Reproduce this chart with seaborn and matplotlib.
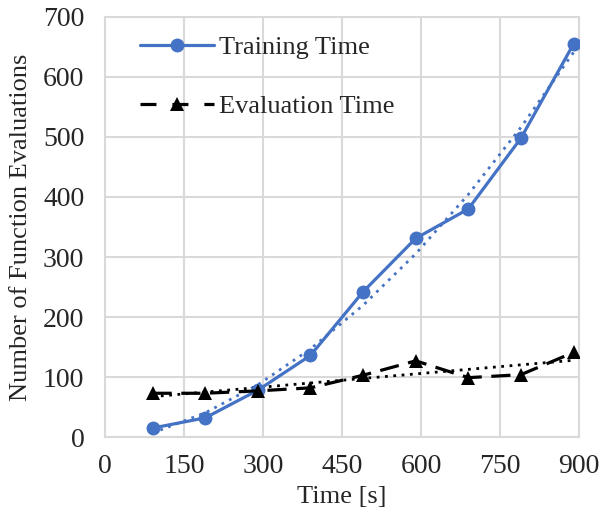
#!/usr/bin/env python3

import numpy as np
import pandas as pd
import matplotlib
matplotlib.use("Agg")
import matplotlib.pyplot as plt
from matplotlib.ticker import MultipleLocator
import seaborn as sns


time_s = [90, 190, 290, 390, 490, 590, 690, 790, 890]
training_evals = [15, 32, 78, 136, 242, 331, 380, 498, 655]
evaluation_evals = [73, 73, 77, 82, 103, 127, 99, 104, 141]

data = pd.DataFrame({"Time": time_s, "Training": training_evals, "Evaluation": evaluation_evals})

blue = "#4472C4"
grid_color = "#d9d9d9"

sns.set_theme(style="white")
plt.rcParams["font.family"] = ["Liberation Serif", "DejaVu Serif"]

fig, ax = plt.subplots(figsize=(6.08, 5.13), dpi=100)
fig.subplots_adjust(left=0.173, right=0.952, top=0.967, bottom=0.148)

# trendlines (Excel style): polynomial for training, linear for evaluation
train_fit = np.poly1d(np.polyfit(data["Time"], data["Training"], 2))
eval_fit = np.poly1d(np.polyfit(data["Time"], data["Evaluation"], 1))
ax.plot(data["Time"], train_fit(data["Time"]), color=blue, lw=2, ls=(0, (1, 2)), zorder=2)
ax.plot(data["Time"], eval_fit(data["Time"]), color="black", lw=2, ls=(0, (1, 2)), zorder=2)

sns.lineplot(data=data, x="Time", y="Training", color=blue, lw=2.3, marker="o",
             markersize=10, markeredgewidth=0, label="Training Time", ax=ax, zorder=3)
sns.lineplot(data=data, x="Time", y="Evaluation", color="black", lw=2.3, marker="^",
             markersize=10, markeredgewidth=0, label="Evaluation Time", ax=ax, zorder=3)
ax.lines[-1].set_linestyle((0, (6, 3)))

ax.set_xlim(0, 900)
ax.set_ylim(0, 700)
ax.xaxis.set_major_locator(MultipleLocator(150))
ax.xaxis.set_minor_locator(MultipleLocator(50))
ax.yaxis.set_major_locator(MultipleLocator(100))
ax.yaxis.set_minor_locator(MultipleLocator(25))
ax.tick_params(axis="both", which="major", labelsize=20, length=0)
ax.tick_params(axis="x", which="major", pad=12)
ax.tick_params(axis="y", which="major", pad=15)
ax.tick_params(axis="both", which="minor", direction="in", length=6, width=1.2, color=grid_color)
ax.grid(True, which="major", color=grid_color, lw=1.5)
for spine in ax.spines.values():
    spine.set_color(grid_color)
    spine.set_linewidth(1.5)

ax.set_xlabel("Time [s]", fontsize=19, labelpad=5)
ax.set_ylabel("Number of Function Evaluations", fontsize=19, labelpad=8)

leg = ax.legend(loc="upper left", frameon=False, fontsize=19, handlelength=2.8, handletextpad=0.2,
                labelspacing=1.35, borderaxespad=0.3, bbox_to_anchor=(0.035, 1.0))
leg.get_lines()[1].set_linestyle((0, (5, 5)))

plt.savefig("out.png", dpi=100)
plt.close()
